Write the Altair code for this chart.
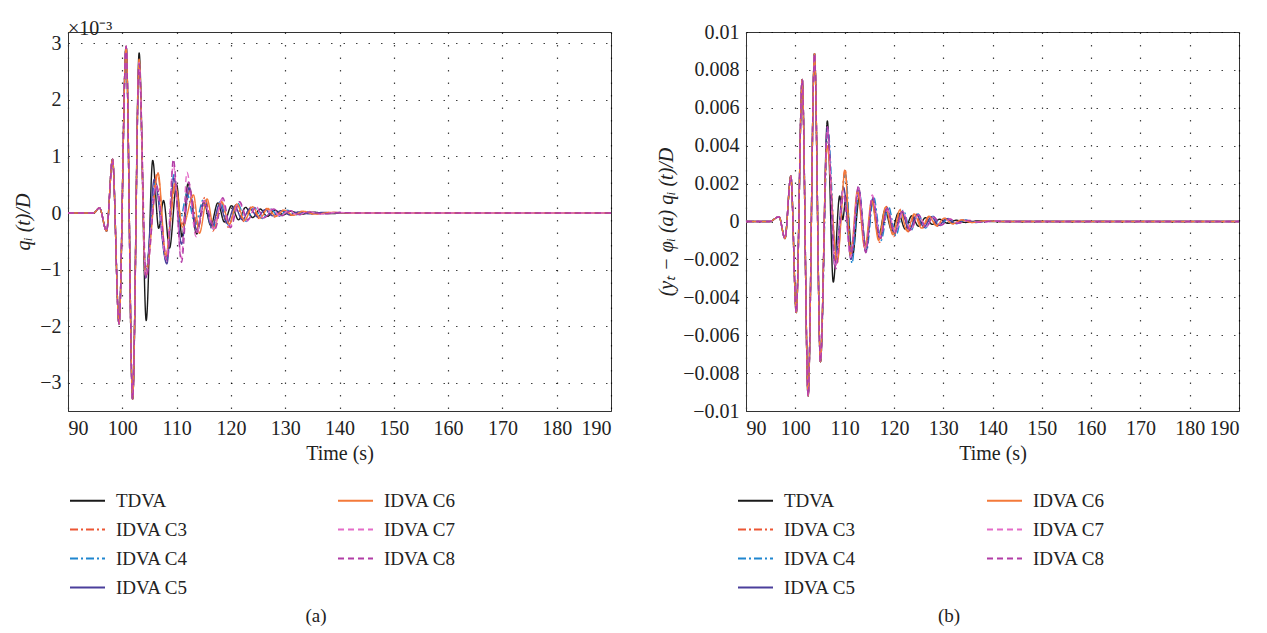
import altair as alt
import pandas as pd

# ---------------- series names / styles ----------------
SERIES = ["TDVA", "IDVA C3", "IDVA C4", "IDVA C5", "IDVA C6", "IDVA C7", "IDVA C8"]
COLOR_MAP = {"TDVA": "#1a1a1a", "IDVA C3": "#ec5634", "IDVA C4": "#1f86cf", "IDVA C5": "#4b3f9b",
             "IDVA C6": "#f47a3a", "IDVA C7": "#e46cc8", "IDVA C8": "#b13da6"}
DASH_MAP = {"TDVA": [1, 0], "IDVA C3": [8, 3, 2, 3], "IDVA C4": [8, 3, 2, 3], "IDVA C5": [1, 0],
            "IDVA C6": [1, 0], "IDVA C7": [6, 4], "IDVA C8": [6, 4]}

X_TICKS = [90, 100, 110, 120, 130, 140, 150, 160, 170, 180, 190]
A_Y_TICKS = [-3, -2, -1, 0, 1, 2, 3]
B_Y_TICKS = [-0.01, -0.008, -0.006, -0.004, -0.002, 0, 0.002, 0.004, 0.006, 0.008, 0.01]

# ---------------- panel (a): q_i(t)/D  (x 1e-3) ----------------
A_PRE_T = [90, 94.7, 95.8, 97.1, 98.2, 99.4, 100.7, 101.9]
A_PRE_V = [0, 0, 0.09, -0.32, 0.95, -1.96, 2.95, -3.29]

A_TDVA_T = [103.1, 104.4, 105.6, 106.7, 107.6, 108.7, 110.0, 111.0, 112.1, 113.7, 115.0, 116.3, 117.6, 118.8,
            120.1, 121.4, 122.7, 124.0, 125.4, 126.7, 128.1, 129.5, 131.0, 133.0, 135.0, 138.0, 142.0, 190]
A_TDVA_V = [2.83, -1.90, 0.93, -0.27, 0.22, -0.62, 0.50, -0.42, 0.52, -0.37, 0.20, -0.22, 0.18, -0.16,
            0.13, -0.12, 0.10, -0.08, 0.07, -0.06, 0.05, -0.04, 0.03, -0.02, 0.015, -0.01, 0, 0]

A_C3_T = [103.1, 104.2, 106.5, 108.0, 109.8, 111.0, 112.5, 113.9, 115.2, 116.7, 118.1, 119.5, 121.0, 122.4,
          123.8, 125.2, 126.6, 128.0, 129.5, 131.0, 132.8, 135.0, 138.0, 142.0, 190]
A_C3_V = [2.70, -1.05, 0.72, -0.78, 0.50, -0.20, 0.40, -0.28, 0.28, -0.32, 0.22, -0.25, 0.15, -0.15,
          0.12, -0.10, 0.08, -0.07, 0.05, -0.04, 0.03, -0.02, 0.01, 0, 0]

A_C4_T = [103.1, 104.3, 106.1, 108.1, 109.5, 110.6, 111.9, 113.4, 115.0, 116.6, 118.0, 119.6, 121.2, 122.8,
          124.3, 125.8, 127.3, 128.8, 130.4, 132.0, 134.0, 136.5, 139.5, 143.0, 190]
A_C4_V = [2.68, -1.05, 0.55, -0.85, 0.68, -0.15, 0.35, -0.20, 0.25, -0.30, 0.20, -0.22, 0.18, -0.15,
          0.10, -0.10, 0.07, -0.06, 0.05, -0.03, 0.02, -0.015, 0.01, 0, 0]

A_C5_T = [103.1, 104.3, 105.9, 108.2, 109.5, 110.9, 112.3, 113.7, 115.1, 116.5, 117.9, 119.3, 120.7, 122.1,
          123.5, 124.9, 126.3, 127.7, 129.2, 130.8, 132.5, 134.5, 137.0, 140.0, 143.0, 190]
A_C5_V = [2.65, -1.15, 0.60, -0.90, 0.62, -0.55, 0.45, -0.30, 0.22, -0.25, 0.15, -0.18, 0.12, -0.12,
          0.08, -0.07, 0.06, -0.05, 0.04, -0.03, 0.02, -0.015, 0.01, -0.005, 0, 0]

A_C6_T = [103.1, 104.3, 106.6, 108.0, 109.7, 111.1, 113.1, 114.2, 115.6, 116.9, 118.3, 119.7, 121.1, 122.5,
          124.0, 125.4, 126.8, 128.3, 129.8, 131.5, 133.3, 135.5, 138.5, 142.0, 190]
A_C6_V = [2.72, -1.10, 0.70, -0.75, 0.52, -0.25, 0.32, -0.36, 0.25, -0.28, 0.20, -0.20, 0.16, -0.13,
          0.11, -0.09, 0.08, -0.06, 0.05, -0.04, 0.03, -0.02, 0.01, 0, 0]

A_C7_T = [103.1, 104.3, 106.2, 108.1, 109.4, 110.9, 111.9, 113.6, 115.0, 116.8, 118.3, 119.8, 121.5, 123.0,
          124.6, 126.0, 127.6, 129.1, 130.7, 132.3, 134.2, 136.5, 139.5, 143.0, 190]
A_C7_V = [2.66, -1.12, 0.50, -0.82, 0.85, -0.80, 0.72, -0.42, 0.22, -0.28, 0.24, -0.24, 0.20, -0.14,
          0.12, -0.09, 0.07, -0.06, 0.05, -0.04, 0.03, -0.02, 0.01, 0, 0]

A_C8_T = [103.1, 104.4, 106.3, 108.3, 109.4, 110.9, 112.2, 113.7, 115.2, 117.1, 118.5, 119.9, 121.6, 123.1,
          124.6, 126.2, 127.9, 129.4, 131.0, 132.6, 134.6, 137.0, 140.0, 143.0, 190]
A_C8_V = [2.64, -1.15, 0.48, -0.85, 0.95, -0.87, 0.55, -0.34, 0.15, -0.28, 0.27, -0.26, 0.20, -0.12,
          0.10, -0.08, 0.07, -0.05, 0.04, -0.03, 0.02, -0.015, 0.01, 0, 0]

# ---------------- panel (b): (y_t - phi_i(a)) q_i(t)/D ----------------
B_PRE_T = [90, 94.8, 96.7, 97.9, 99.1, 100.2, 101.4, 102.6, 103.9, 105.1]
B_PRE_V = [0, 0, 0.00025, -0.0009, 0.0024, -0.0048, 0.0075, -0.0092, 0.00885, -0.0074]

B_TDVA_T = [106.5, 107.7, 109.0, 109.6, 110.3, 111.6, 113.0, 114.3, 115.6, 116.9, 118.2, 119.6, 120.9, 122.3,
            123.6, 125.0, 126.4, 127.8, 129.3, 130.9, 132.6, 134.5, 137.0, 140.0, 190]
B_TDVA_V = [0.0053, -0.0032, 0.00135, 0.0001, 0.0013, -0.0018, 0.0013, -0.0013, 0.0010, -0.0008, 0.0006,
            -0.0005, 0.00045, -0.0004, 0.0003, -0.00025, 0.0002, -0.00015, 0.00012, -0.0001, 0.00007,
            -0.00005, 0.00003, 0, 0]

B_C3_T = [106.5, 108.4, 110.1, 111.3, 112.7, 114.2, 115.6, 117.1, 118.5, 120.0, 121.4, 122.9, 124.3, 125.8,
          127.3, 128.8, 130.4, 132.0, 133.8, 135.8, 138.5, 142.0, 190]
B_C3_V = [0.0042, -0.0023, 0.00275, -0.0019, 0.0015, -0.0015, 0.0012, -0.0011, 0.0008, -0.0008, 0.00065,
          -0.00055, 0.00045, -0.00035, 0.0003, -0.00025, 0.00018, -0.00012, 0.00008, -0.00005, 0.00003, 0, 0]

B_C4_T = [106.6, 108.2, 110.2, 111.5, 112.9, 114.4, 115.9, 117.4, 118.9, 120.4, 121.9, 123.4, 124.9, 126.4,
          127.9, 129.4, 131.0, 132.7, 134.5, 136.5, 139.0, 142.0, 190]
B_C4_V = [0.0049, -0.0016, 0.0025, -0.0022, 0.0017, -0.0016, 0.0013, -0.0010, 0.0008, -0.00075, 0.0006,
          -0.0005, 0.0004, -0.00035, 0.00028, -0.00022, 0.00016, -0.00012, 0.00008, -0.00005, 0.00003, 0, 0]

B_C5_T = [106.5, 108.0, 109.8, 111.3, 112.8, 114.3, 115.7, 117.2, 118.6, 120.1, 121.6, 123.1, 124.6, 126.1,
          127.6, 129.1, 130.7, 132.4, 134.3, 136.5, 139.5, 142.0, 190]
B_C5_V = [0.0050, -0.0023, 0.0018, -0.0020, 0.0018, -0.0016, 0.0012, -0.0009, 0.0007, -0.0006, 0.0005,
          -0.00045, 0.00035, -0.0003, 0.00025, -0.0002, 0.00015, -0.0001, 0.00007, -0.00004, 0.00002, 0, 0]

B_C6_T = [106.4, 108.5, 110.1, 111.2, 112.6, 114.1, 115.5, 116.9, 118.3, 119.8, 121.2, 122.7, 124.1, 125.6,
          127.1, 128.6, 130.2, 131.9, 133.7, 135.8, 138.5, 142.0, 190]
B_C6_V = [0.0040, -0.00215, 0.0027, -0.0018, 0.0016, -0.0014, 0.0011, -0.0010, 0.00075, -0.0007, 0.0006,
          -0.0005, 0.0004, -0.00035, 0.00028, -0.00022, 0.00017, -0.00012, 0.00008, -0.00005, 0.00003, 0, 0]

B_C7_T = [106.5, 108.1, 109.7, 111.2, 112.8, 114.3, 115.6, 117.2, 118.7, 120.3, 121.8, 123.4, 125.0, 126.5,
          128.1, 129.7, 131.4, 133.2, 135.2, 137.5, 140.0, 143.0, 190]
B_C7_V = [0.0049, -0.0024, 0.0016, -0.0019, 0.0018, -0.0015, 0.0014, -0.0008, 0.0006, -0.00055, 0.0005,
          -0.00045, 0.00035, -0.0003, 0.00022, -0.00018, 0.00013, -0.00009, 0.00006, -0.00004, 0.00002, 0, 0]

B_C8_T = [106.5, 108.2, 109.8, 111.3, 112.8, 114.3, 115.6, 117.3, 118.6, 120.2, 121.7, 123.3, 125.0, 126.5,
          128.0, 129.6, 131.3, 133.0, 135.0, 137.5, 140.0, 143.0, 190]
B_C8_V = [0.0050, -0.0025, 0.0014, -0.0017, 0.00185, -0.00165, 0.0013, -0.0009, 0.0007, -0.0006, 0.00055,
          -0.00045, 0.00035, -0.0003, 0.00025, -0.0002, 0.00014, -0.0001, 0.00006, -0.00004, 0.00002, 0, 0]

A_TAILS = {"TDVA": (A_TDVA_T, A_TDVA_V), "IDVA C3": (A_C3_T, A_C3_V), "IDVA C4": (A_C4_T, A_C4_V),
           "IDVA C5": (A_C5_T, A_C5_V), "IDVA C6": (A_C6_T, A_C6_V), "IDVA C7": (A_C7_T, A_C7_V),
           "IDVA C8": (A_C8_T, A_C8_V)}
B_TAILS = {"TDVA": (B_TDVA_T, B_TDVA_V), "IDVA C3": (B_C3_T, B_C3_V), "IDVA C4": (B_C4_T, B_C4_V),
           "IDVA C5": (B_C5_T, B_C5_V), "IDVA C6": (B_C6_T, B_C6_V), "IDVA C7": (B_C7_T, B_C7_V),
           "IDVA C8": (B_C8_T, B_C8_V)}


def build(pre_t, pre_v, tails):
    rows = []
    for name in SERIES:
        ts, vs = tails[name]
        for t, v in zip(list(pre_t) + list(ts), list(pre_v) + list(vs)):
            rows.append({"t": t, "v": v, "series": name})
    return pd.DataFrame(rows)


df_a = build(A_PRE_T, A_PRE_V, A_TAILS)
df_b = build(B_PRE_T, B_PRE_V, B_TAILS)

FONT = "Liberation Serif"
TXT = "#222222"


def legend(legend_x, col_pad):
    return alt.Legend(
        orient="none", legendX=legend_x, legendY=450, columns=2, title=None,
        symbolType="stroke", symbolSize=1225, symbolStrokeWidth=2, labelFont=FONT,
        labelFontSize=19, labelColor=TXT, labelOffset=10, rowPadding=-13,
        columnPadding=col_pad, padding=0, labelLimit=200,
    )


def panel(df, ydom, yticks, ytitle, width, legend_x, col_pad, caption, cap_x, label_expr, title_text):
    color_scale = alt.Scale(domain=SERIES, range=[COLOR_MAP[s] for s in SERIES])
    dash_scale = alt.Scale(domain=SERIES, range=[DASH_MAP[s] for s in SERIES])
    lg = legend(legend_x, col_pad)
    yaxis = dict(values=yticks, title=ytitle, titleFontStyle="italic", titleFontWeight="normal",
                 titleFont=FONT, titleFontSize=20, titleColor=TXT, titlePadding=6)
    if label_expr:
        yaxis["labelExpr"] = label_expr
    lines = alt.Chart(df).mark_line(interpolate="monotone", strokeWidth=1.4, clip=True).encode(
        x=alt.X("t:Q", scale=alt.Scale(domain=[90, 190], nice=False),
                axis=alt.Axis(values=X_TICKS, title="Time (s)", titleFont=FONT, titleFontSize=20,
                              titleFontWeight="normal", titleColor=TXT, titlePadding=5)),
        y=alt.Y("v:Q", scale=alt.Scale(domain=ydom, nice=False), axis=alt.Axis(**yaxis)),
        color=alt.Color("series:N", scale=color_scale, legend=lg),
        strokeDash=alt.StrokeDash("series:N", scale=dash_scale, legend=lg),
    )
    cap = alt.Chart(pd.DataFrame({"c": [caption]})).mark_text(
        font=FONT, fontSize=19, color=TXT).encode(
        text="c:N", x=alt.value(cap_x), y=alt.value(584))
    return alt.layer(lines, cap).properties(
        width=width, height=379,
        title=alt.TitleParams(title_text, anchor="start", frame="group", font=FONT, fontSize=20,
                              fontWeight="normal", color=TXT, offset=-7),
    )


pa = panel(df_a, [-3.5, 3.2], A_Y_TICKS, "qᵢ (t)/D", 543, 1, 146, "(a)", 248, None, "×10⁻³")
pb = panel(df_b, [-0.01, 0.01], B_Y_TICKS, "(yₜ − φᵢ (a) qᵢ (t)/D", 493, -9, 127, "(b)", 203,
           "format(datum.value, '.3~f')", " ")

chart = alt.hconcat(pa, pb, spacing=44).resolve_scale(
    color="independent", strokeDash="independent", x="independent", y="independent"
).properties(
    background="white", padding={"left": 5, "top": 0, "right": 5, "bottom": 0}
).configure_view(stroke="#333333", strokeWidth=1).configure_axis(
    labelFont=FONT, labelFontSize=20, labelColor=TXT, ticks=False, labelPadding=7,
    domainColor="#333333", grid=True, gridDash=[1.5, 11], gridColor="#000000", gridOpacity=0.75,
    gridWidth=1.2,
)

chart.save("out.html", embed_options={"renderer": "svg", "actions": False})
